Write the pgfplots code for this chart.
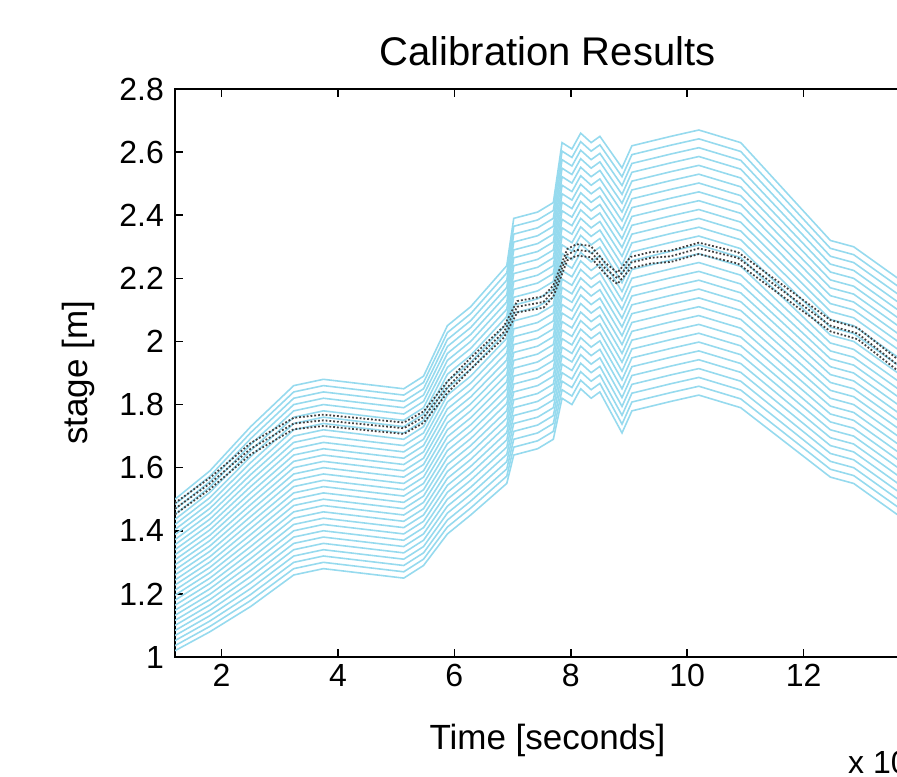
\documentclass[border=0pt]{standalone}
\usepackage{fontspec}
\setmainfont{Liberation Sans}
\usepackage{pgfplots}
\usepackage{pgfplotstable}
\pgfplotsset{compat=1.18}
\definecolor{ensblue}{RGB}{150,218,238}

% ensemble runs: one column per run, y0 is the highest
\pgfplotstableread{
x y0 y1 y2 y3 y4 y5 y6 y7 y8 y9 y10 y11 y12 y13 y14 y15 y16 y17 y18 y19 y20 y21 y22 y23 y24 y25 y26 y27 y28 y29 y30
1.20 1.500 1.484 1.468 1.452 1.436 1.420 1.404 1.388 1.372 1.356 1.340 1.324 1.308 1.292 1.276 1.260 1.244 1.228 1.212 1.196 1.180 1.164 1.148 1.132 1.116 1.100 1.084 1.068 1.052 1.036 1.020
1.80 1.590 1.573 1.556 1.539 1.522 1.505 1.488 1.471 1.454 1.437 1.420 1.403 1.386 1.369 1.352 1.335 1.318 1.301 1.284 1.267 1.250 1.233 1.216 1.199 1.182 1.165 1.148 1.131 1.114 1.097 1.080
2.50 1.730 1.711 1.692 1.673 1.654 1.635 1.616 1.597 1.578 1.559 1.540 1.521 1.502 1.483 1.464 1.445 1.426 1.407 1.388 1.369 1.350 1.331 1.312 1.293 1.274 1.255 1.236 1.217 1.198 1.179 1.160
3.24 1.86 1.84 1.82 1.80 1.78 1.76 1.74 1.72 1.70 1.68 1.66 1.64 1.62 1.60 1.58 1.56 1.54 1.52 1.50 1.48 1.46 1.44 1.42 1.40 1.38 1.36 1.34 1.32 1.30 1.28 1.26
3.75 1.88 1.86 1.84 1.82 1.80 1.78 1.76 1.74 1.72 1.70 1.68 1.66 1.64 1.62 1.60 1.58 1.56 1.54 1.52 1.50 1.48 1.46 1.44 1.42 1.40 1.38 1.36 1.34 1.32 1.30 1.28
5.13 1.85 1.83 1.81 1.79 1.77 1.75 1.73 1.71 1.69 1.67 1.65 1.63 1.61 1.59 1.57 1.55 1.53 1.51 1.49 1.47 1.45 1.43 1.41 1.39 1.37 1.35 1.33 1.31 1.29 1.27 1.25
5.47 1.89 1.87 1.85 1.83 1.81 1.79 1.77 1.75 1.73 1.71 1.69 1.67 1.65 1.63 1.61 1.59 1.57 1.55 1.53 1.51 1.49 1.47 1.45 1.43 1.41 1.39 1.37 1.35 1.33 1.31 1.29
5.88 2.050 2.028 2.006 1.984 1.962 1.940 1.918 1.896 1.874 1.852 1.830 1.808 1.786 1.764 1.742 1.720 1.698 1.676 1.654 1.632 1.610 1.588 1.566 1.544 1.522 1.500 1.478 1.456 1.434 1.412 1.390
6.28 2.110 2.088 2.066 2.044 2.022 2.000 1.978 1.956 1.934 1.912 1.890 1.868 1.846 1.824 1.802 1.780 1.758 1.736 1.714 1.692 1.670 1.648 1.626 1.604 1.582 1.560 1.538 1.516 1.494 1.472 1.450
6.90 2.240 2.217 2.194 2.171 2.148 2.125 2.102 2.079 2.056 2.033 2.010 1.987 1.964 1.941 1.918 1.895 1.872 1.849 1.826 1.803 1.780 1.757 1.734 1.711 1.688 1.665 1.642 1.619 1.596 1.573 1.550
7.02 2.390 2.365 2.340 2.315 2.290 2.265 2.240 2.215 2.190 2.165 2.140 2.115 2.090 2.065 2.040 2.015 1.990 1.965 1.940 1.915 1.890 1.865 1.840 1.815 1.790 1.765 1.740 1.715 1.690 1.665 1.640
7.43 2.410 2.385 2.360 2.335 2.310 2.285 2.260 2.235 2.210 2.185 2.160 2.135 2.110 2.085 2.060 2.035 2.010 1.985 1.960 1.935 1.910 1.885 1.860 1.835 1.810 1.785 1.760 1.735 1.710 1.685 1.660
7.70 2.440 2.415 2.390 2.365 2.340 2.315 2.290 2.265 2.240 2.215 2.190 2.165 2.140 2.115 2.090 2.065 2.040 2.015 1.990 1.965 1.940 1.915 1.890 1.865 1.840 1.815 1.790 1.765 1.740 1.715 1.690
7.85 2.630 2.603 2.576 2.549 2.522 2.495 2.468 2.441 2.414 2.387 2.360 2.333 2.306 2.279 2.252 2.225 2.198 2.171 2.144 2.117 2.090 2.063 2.036 2.009 1.982 1.955 1.928 1.901 1.874 1.847 1.820
8.02 2.610 2.583 2.556 2.529 2.502 2.475 2.448 2.421 2.394 2.367 2.340 2.313 2.286 2.259 2.232 2.205 2.178 2.151 2.124 2.097 2.070 2.043 2.016 1.989 1.962 1.935 1.908 1.881 1.854 1.827 1.800
8.17 2.660 2.633 2.606 2.579 2.552 2.525 2.498 2.471 2.444 2.417 2.390 2.363 2.336 2.309 2.282 2.255 2.228 2.201 2.174 2.147 2.120 2.093 2.066 2.039 2.012 1.985 1.958 1.931 1.904 1.877 1.850
8.35 2.630 2.603 2.576 2.549 2.522 2.495 2.468 2.441 2.414 2.387 2.360 2.333 2.306 2.279 2.252 2.225 2.198 2.171 2.144 2.117 2.090 2.063 2.036 2.009 1.982 1.955 1.928 1.901 1.874 1.847 1.820
8.50 2.650 2.623 2.596 2.569 2.542 2.515 2.488 2.461 2.434 2.407 2.380 2.353 2.326 2.299 2.272 2.245 2.218 2.191 2.164 2.137 2.110 2.083 2.056 2.029 2.002 1.975 1.948 1.921 1.894 1.867 1.840
8.88 2.550 2.522 2.494 2.466 2.438 2.410 2.382 2.354 2.326 2.298 2.270 2.242 2.214 2.186 2.158 2.130 2.102 2.074 2.046 2.018 1.990 1.962 1.934 1.906 1.878 1.850 1.822 1.794 1.766 1.738 1.710
9.05 2.620 2.592 2.564 2.536 2.508 2.480 2.452 2.424 2.396 2.368 2.340 2.312 2.284 2.256 2.228 2.200 2.172 2.144 2.116 2.088 2.060 2.032 2.004 1.976 1.948 1.920 1.892 1.864 1.836 1.808 1.780
9.72 2.650 2.622 2.594 2.566 2.538 2.510 2.482 2.454 2.426 2.398 2.370 2.342 2.314 2.286 2.258 2.230 2.202 2.174 2.146 2.118 2.090 2.062 2.034 2.006 1.978 1.950 1.922 1.894 1.866 1.838 1.810
10.20 2.670 2.642 2.614 2.586 2.558 2.530 2.502 2.474 2.446 2.418 2.390 2.362 2.334 2.306 2.278 2.250 2.222 2.194 2.166 2.138 2.110 2.082 2.054 2.026 1.998 1.970 1.942 1.914 1.886 1.858 1.830
10.92 2.630 2.602 2.574 2.546 2.518 2.490 2.462 2.434 2.406 2.378 2.350 2.322 2.294 2.266 2.238 2.210 2.182 2.154 2.126 2.098 2.070 2.042 2.014 1.986 1.958 1.930 1.902 1.874 1.846 1.818 1.790
12.46 2.320 2.295 2.270 2.245 2.220 2.195 2.170 2.145 2.120 2.095 2.070 2.045 2.020 1.995 1.970 1.945 1.920 1.895 1.870 1.845 1.820 1.795 1.770 1.745 1.720 1.695 1.670 1.645 1.620 1.595 1.570
12.86 2.300 2.275 2.250 2.225 2.200 2.175 2.150 2.125 2.100 2.075 2.050 2.025 2.000 1.975 1.950 1.925 1.900 1.875 1.850 1.825 1.800 1.775 1.750 1.725 1.700 1.675 1.650 1.625 1.600 1.575 1.550
14.00 2.150 2.125 2.100 2.075 2.050 2.025 2.000 1.975 1.950 1.925 1.900 1.875 1.850 1.825 1.800 1.775 1.750 1.725 1.700 1.675 1.650 1.625 1.600 1.575 1.550 1.525 1.500 1.475 1.450 1.425 1.400
}\stagetab

% observed stage (dotted band)
\pgfplotstableread{
x lo mid hi
1.20 1.452 1.470 1.488
1.80 1.532 1.550 1.568
2.50 1.642 1.660 1.678
3.24 1.722 1.740 1.758
3.75 1.732 1.750 1.768
5.13 1.707 1.725 1.743
5.47 1.742 1.760 1.778
5.88 1.837 1.855 1.873
6.28 1.912 1.930 1.948
6.85 2.012 2.030 2.048
7.08 2.092 2.110 2.128
7.53 2.107 2.125 2.143
7.70 2.142 2.160 2.178
7.94 2.257 2.275 2.293
8.10 2.272 2.290 2.308
8.34 2.267 2.285 2.303
8.60 2.212 2.230 2.248
8.80 2.182 2.200 2.218
9.03 2.232 2.250 2.268
9.37 2.247 2.265 2.283
9.72 2.252 2.270 2.288
10.20 2.277 2.295 2.313
10.87 2.247 2.265 2.283
12.46 2.032 2.050 2.068
12.93 2.007 2.025 2.043
14.00 1.852 1.870 1.888
}\obstab

\begin{document}
\begin{tikzpicture}
\path[use as bounding box, clip] (-87.5pt,-59.5pt) rectangle (361pt,328.5pt);
\begin{axis}[
    scale only axis,
    width=372.5pt, height=284pt,
    xmin=1.2, xmax=14, ymin=1, ymax=2.8,
    xtick={2,4,6,8,10,12},
    ytick={1,1.2,1.4,1.6,1.8,2,2.2,2.4,2.6,2.8},
    axis line style={line width=1pt},
    tick style={black, line width=0.8pt},
    major tick length=4pt,
    tick align=inside,
    ticklabel style={font=\fontsize{16}{18}\selectfont},
    yticklabel style={xshift=-2pt},
    /pgf/number format/assume math mode=true,
    title={Calibration Results},
    title style={font=\fontsize{20}{24}\selectfont, at={(axis description cs:0.5,1.0194)}, anchor=base},
    xlabel={Time [seconds]},
    xlabel style={font=\fontsize{17.5}{20}\selectfont, at={(axis description cs:0.5,-0.1637)}, anchor=base},
    ylabel={stage [m]},
    ylabel style={font=\fontsize{17.5}{20}\selectfont, at={(axis description cs:-0.1302,0.5)}, anchor=center},
]
\pgfplotsinvokeforeach{0,...,30}{
  \addplot[ensblue, line width=0.8pt] table[x=x, y=y#1]{\stagetab};
}
\addplot[black!75, densely dotted, line width=0.9pt] table[x=x, y=lo]{\obstab};
\addplot[black!75, densely dotted, line width=0.9pt] table[x=x, y=mid]{\obstab};
\addplot[black!75, densely dotted, line width=0.9pt] table[x=x, y=hi]{\obstab};
\end{axis}
% exponent label of the time axis, partly outside the cropped picture
\node[anchor=base west, font=\fontsize{16}{18}\selectfont, inner sep=0pt] at (336.4pt,-58.2pt) {x 10\textsuperscript{4}};
\end{tikzpicture}
\end{document}
